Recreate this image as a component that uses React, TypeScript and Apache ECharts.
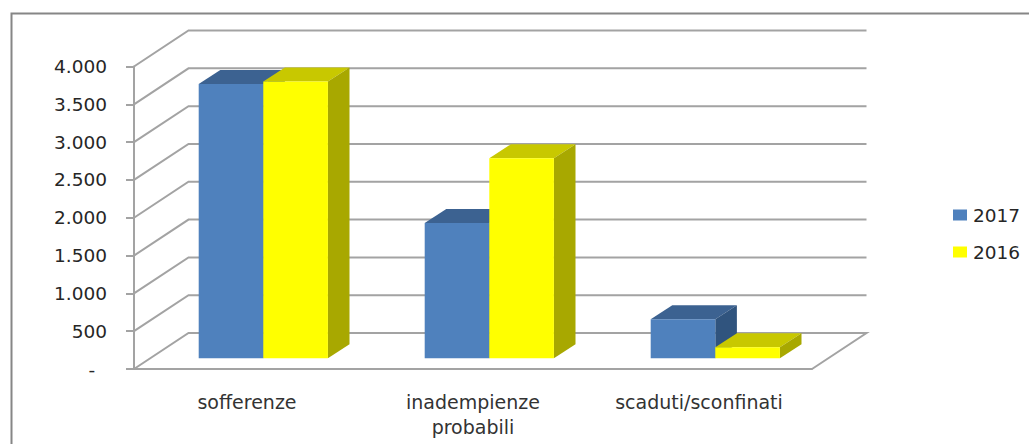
import React, { useEffect, useRef } from "react";
import * as echarts from "echarts";

const categories = ["sofferenze", "inadempienze\nprobabili", "scaduti/sconfinati"];
const values2017 = [3628, 1790, 516];
const values2016 = [3659, 2645, 145];
const gridValues = [0, 500, 1000, 1500, 2000, 2500, 3000, 3500, 4000];

const WALL_DX = 54.5;
const WALL_DY = 36;
const BAR_DX = 16.3;
const BAR_DY = 10.7;
const DEPTH_DX = 21.6;
const DEPTH_DY = 14;
const BAR_W = 64.6;
const LINE = "#a3a3a3";

const wallItem = (params: any, api: any) => {
  const cs = params.coordSys;
  const y = api.coord([0, api.value(0)])[1];
  const x0 = cs.x;
  const x1 = cs.x + cs.width;
  const points =
    api.value(0) === 0
      ? [[x0, y], [x0 + WALL_DX, y - WALL_DY], [x1 + WALL_DX, y - WALL_DY], [x1, y]]
      : [[x0, y], [x0 + WALL_DX, y - WALL_DY], [x1 + WALL_DX, y - WALL_DY]];
  return {
    type: "polyline",
    shape: { points },
    style: { stroke: LINE, lineWidth: 2, fill: "none" },
  };
};

const barItem = (side: number, front: string, top: string, right: string) => (_: any, api: any) => {
  const p = api.coord([api.value(0), api.value(1)]);
  const base = api.coord([api.value(0), 0])[1] - BAR_DY;
  const yt = p[1] - BAR_DY;
  const xl = p[0] + BAR_DX + (side < 0 ? -BAR_W : 0);
  const xr = xl + BAR_W;
  return {
    type: "group",
    children: [
      {
        type: "polygon",
        shape: { points: [[xl, yt], [xl + DEPTH_DX, yt - DEPTH_DY], [xr + DEPTH_DX, yt - DEPTH_DY], [xr, yt]] },
        style: { fill: top },
      },
      {
        type: "polygon",
        shape: { points: [[xr, yt], [xr + DEPTH_DX, yt - DEPTH_DY], [xr + DEPTH_DX, base - DEPTH_DY], [xr, base]] },
        style: { fill: right },
      },
      {
        type: "rect",
        shape: { x: xl, y: yt, width: BAR_W, height: base - yt },
        style: { fill: front },
      },
    ],
  };
};

export default function App() {
  const ref = useRef<HTMLDivElement>(null);
  useEffect(() => {
    const chart = echarts.init(ref.current!, undefined, { renderer: "svg" });
    const font = "'DejaVu Sans'";
    chart.setOption({
      animation: false,
      backgroundColor: "#ffffff",
      textStyle: { fontFamily: font },
      grid: { left: 134, right: 217, top: 66.5, bottom: 75, containLabel: false },
      legend: {
        orient: "vertical",
        left: 948,
        top: 200,
        itemWidth: 14,
        itemHeight: 11,
        itemGap: 17,
        data: ["2017", "2016"],
        icon: "rect",
        textStyle: { fontFamily: font, fontSize: 18.5, color: "#262626", padding: [0, 0, 0, 1], lineHeight: 20 },
      },
      xAxis: {
        type: "category",
        data: categories,
        axisLine: { lineStyle: { color: LINE, width: 2 } },
        axisTick: { length: 7, lineStyle: { color: LINE, width: 2 } },
        axisLabel: { fontFamily: font, fontSize: 19, color: "#333333", margin: 20, lineHeight: 25, interval: 0 },
        splitLine: { show: false },
      },
      yAxis: {
        type: "value",
        min: 0,
        max: 4000,
        interval: 500,
        axisLine: { show: true, lineStyle: { color: LINE, width: 2 } },
        axisTick: { show: true, length: 8, lineStyle: { color: LINE, width: 2 } },
        axisLabel: {
          fontFamily: font,
          fontSize: 18.5,
          color: "#262626",
          margin: 27,
          padding: [7, 0, 0, 0],
          formatter: (v: number) =>
            v === 0 ? "-\u00a0\u00a0" : v >= 1000 ? `${Math.floor(v / 1000)}.${String(v % 1000).padStart(3, "0")}` : String(v),
        },
        splitLine: { show: false },
      },
      graphic: [
        {
          type: "polyline",
          silent: true,
          shape: { points: [[11.5, 444], [11.5, 13.5], [1029, 13.5]] },
          style: { stroke: "#868686", lineWidth: 2, fill: "none" },
        },
      ],
      series: [
        {
          type: "custom",
          name: "grid",
          coordinateSystem: "cartesian2d",
          clip: false,
          silent: true,
          z: 1,
          renderItem: wallItem,
          encode: { y: 0 },
          data: gridValues.map((v) => [v]),
        },
        {
          type: "custom",
          name: "2017",
          coordinateSystem: "cartesian2d",
          clip: false,
          z: 3,
          itemStyle: { color: "#4F81BD" },
          renderItem: barItem(-1, "#4F81BD", "#3C6291", "#30547E"),
          encode: { x: 0, y: 1 },
          data: values2017.map((v, i) => [i, v]),
        },
        {
          type: "custom",
          name: "2016",
          coordinateSystem: "cartesian2d",
          clip: false,
          z: 4,
          itemStyle: { color: "#FFFF00" },
          renderItem: barItem(1, "#FFFF00", "#C8C800", "#A8A800"),
          encode: { x: 0, y: 1 },
          data: values2016.map((v, i) => [i, v]),
        },
      ],
    });
    return () => chart.dispose();
  }, []);
  return <div ref={ref} style={{ position: "absolute", left: 0, top: 0, width: 1029, height: 444 }} />;
}
